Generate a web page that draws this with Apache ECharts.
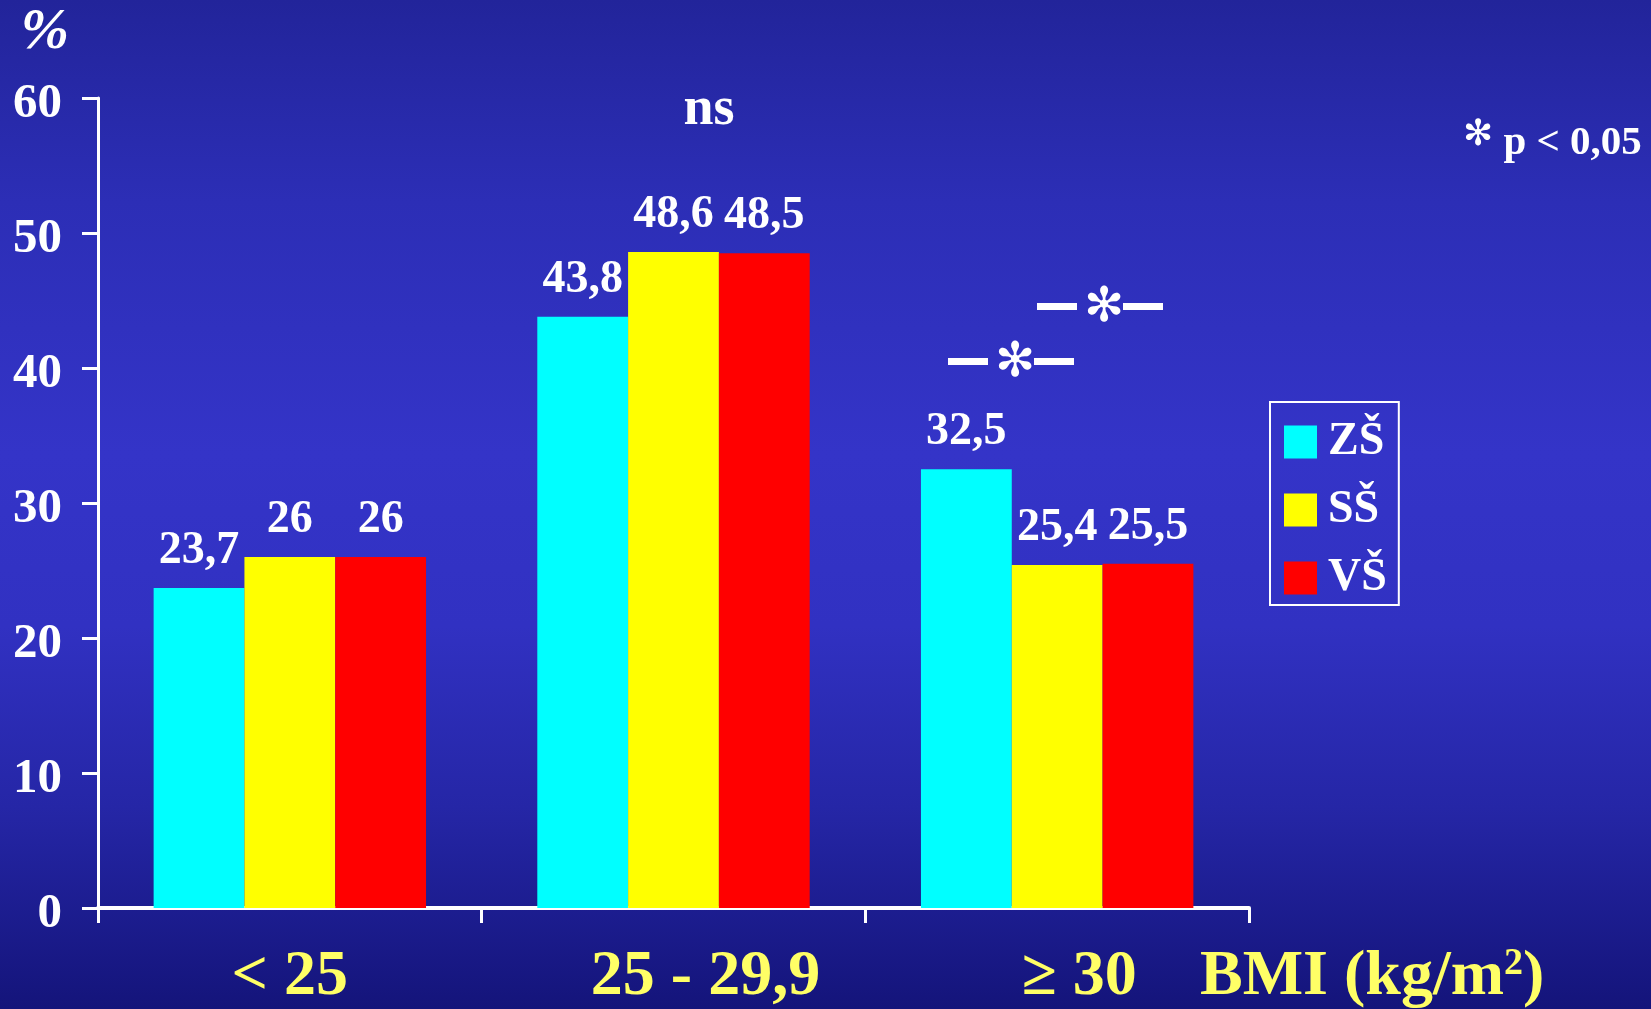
<!DOCTYPE html>
<html>
<head>
<meta charset="utf-8">
<script src="https://cdn.jsdelivr.net/npm/echarts@6/dist/echarts.min.js"></script>
<style>
html,body{margin:0;padding:0;}
#c{width:1651px;height:1009px;background:linear-gradient(to bottom,#22249a 0%,#2c2eb6 20%,#3434c8 45%,#3131c2 62%,#2526a6 80%,#14147a 100%);}
</style>
</head>
<body>
<div id="c"></div>
<script>
const categories = ['< 25', '25 - 29,9', '≥ 30'];
const seriesNames = ['ZŠ', 'SŠ', 'VŠ'];
const zsValues = [23.7, 43.8, 32.5];
const ssValues = [26, 48.6, 25.4];
const vsValues = [26, 48.5, 25.5];
const yMin = 0, yMax = 60, yStep = 10;
const colors = ['#00ffff', '#ffff00', '#ff0000'];

const serif = "'Liberation Serif','Times New Roman',serif";
const chart = echarts.init(document.getElementById('c'), null, {renderer: 'canvas'});

function fmt(v){ return String(v).replace('.', ','); }

const labelStyle = {
  show: true, position: 'top', distance: 14,
  color: '#ffffff', fontFamily: serif, fontWeight: 'bold', fontSize: 46,
  formatter: p => fmt(p.value)
};

const shadow = {textShadowColor: '#000000', textShadowOffsetX: 3, textShadowOffsetY: 3, textShadowBlur: 0};

function mkSeries(name, data, color){
  return {
    name: name, type: 'bar', data: data, barGap: '0%', barCategoryGap: '29%',
    itemStyle: {color: color}, label: labelStyle, animation: false
  };
}

function sigMark(x, y){
  return [
    {type: 'rect', shape: {x: x, y: y - 4, width: 40, height: 7}, style: {fill: '#ffffff'}, z: 10},
    {type: 'text', x: x + 67, y: y + 2, style: {text: '✻', fill: '#ffffff', font: "bold 48px 'DejaVu Sans'", align: 'center', verticalAlign: 'middle', shadowColor:'#000', shadowOffsetX:2, shadowOffsetY:2, shadowBlur:0}, z: 10},
    {type: 'rect', shape: {x: x + 86, y: y - 4, width: 40, height: 7}, style: {fill: '#ffffff'}, z: 10}
  ];
}

const option = {
  animation: false,
  grid: {left: 98, right: 402, top: 98, bottom: 101, containLabel: false},
  legend: {
    orient: 'vertical', left: 1270, top: 402,
    data: seriesNames,
    icon: 'rect', itemWidth: 33, itemHeight: 33, itemGap: 22,
    borderColor: '#ffffff', borderWidth: 2, borderRadius: 0,
    padding: [17, 12, 4, 14],
    textStyle: {color: '#ffffff', fontFamily: serif, fontWeight: 'bold', fontSize: 46, padding: [0,0,0,6]}
  },
  xAxis: {
    type: 'category', data: categories,
    axisLine: {lineStyle: {color: '#ffffff', width: 4}},
    axisTick: {show: true, length: 15, lineStyle: {color: '#ffffff', width: 3}},
    axisLabel: {
      margin: 37,
      formatter: (v, i) => ['{a|' + v + '}', '{b|' + v + '}', '{c|' + v + '}'][i],
      rich: {
        a: {color: '#ffff66', fontFamily: serif, fontWeight: 'bold', fontSize: 64, padding: [0,0,0,0], ...shadow},
        b: {color: '#ffff66', fontFamily: serif, fontWeight: 'bold', fontSize: 64, padding: [0,0,0,64], ...shadow},
        c: {color: '#ffff66', fontFamily: serif, fontWeight: 'bold', fontSize: 64, padding: [0,0,0,44], ...shadow}
      }
    },
    splitLine: {show: false}
  },
  yAxis: {
    type: 'value', min: yMin, max: yMax, interval: yStep,
    axisLine: {show: true, lineStyle: {color: '#ffffff', width: 3}},
    axisTick: {show: true, length: 16, lineStyle: {color: '#ffffff', width: 3}},
    axisLabel: {margin: 36, color: '#ffffff', fontFamily: serif, fontWeight: 'bold', fontSize: 49, verticalAlign: 'top', lineHeight: 12},
    splitLine: {show: false}
  },
  series: [
    mkSeries(seriesNames[0], zsValues, colors[0]),
    mkSeries(seriesNames[1], ssValues, colors[1]),
    mkSeries(seriesNames[2], vsValues, colors[2])
  ],
  graphic: [
    {type: 'text', x: 45, y: 33, style: {text: '%', fill: '#ffffff', font: "italic bold 58px " + serif, align: 'center', verticalAlign: 'middle', shadowColor: '#000', shadowOffsetX: 3, shadowOffsetY: 3, shadowBlur: 0}},
    {type: 'text', x: 709, y: 110, style: {text: 'ns', fill: '#ffffff', font: "bold 54px " + serif, align: 'center', verticalAlign: 'middle', shadowColor: '#000', shadowOffsetX: 3, shadowOffsetY: 3, shadowBlur: 0}},
    {type: 'text', x: 1463, y: 143, style: {
      rich: {
        s: {font: "bold 36px 'DejaVu Sans'", fill: '#ffffff', padding: [0,0,14,0]},
        t: {font: "bold 41px " + serif, fill: '#ffffff'}
      },
      text: '{s|✻}{t| p < 0,05}', align: 'left', verticalAlign: 'middle', shadowColor: '#000', shadowOffsetX: 2, shadowOffsetY: 2, shadowBlur: 0}},
    {type: 'text', x: 1200, y: 977, style: {
      rich: {
        m: {font: "bold 64px " + serif, fill: '#ffff66'},
        u: {font: "bold 38px " + serif, fill: '#ffff66', padding: [0,0,26,0]}
      },
      text: '{m|BMI (kg/m}{u|2}{m|)}', align: 'left', verticalAlign: 'middle', shadowColor: '#000', shadowOffsetX: 3, shadowOffsetY: 3, shadowBlur: 0}}
  ].concat(sigMark(1037, 307)).concat(sigMark(948, 362))
};
chart.setOption(option);
</script>
</body>
</html>
